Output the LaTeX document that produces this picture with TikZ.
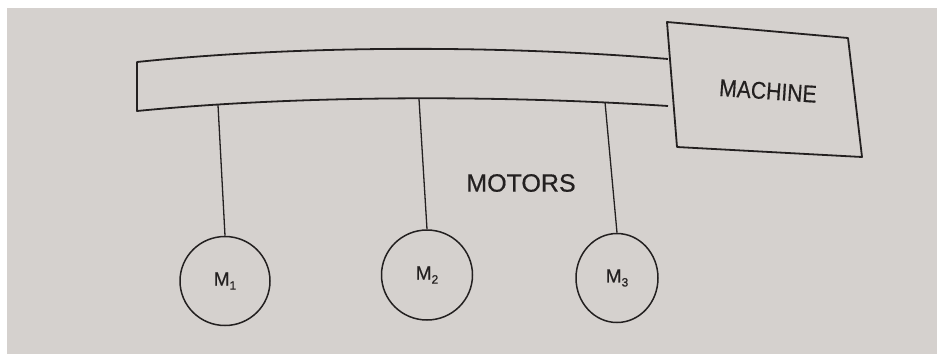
\documentclass[tikz,border=0pt]{standalone}
\usepackage{fontspec}
\setmainfont[FakeBold=0.6,AutoFakeBold=0.6]{Liberation Sans}
\usetikzlibrary{shapes.geometric}
\definecolor{paper}{RGB}{213,209,206}
\definecolor{ink}{RGB}{35,32,32}
\newcommand\motsub[1]{\raisebox{-4pt}{\fontsize{12}{12}\selectfont #1}}
\begin{document}
\begin{tikzpicture}[x=1pt,y=-1pt,
  outline/.style={draw=ink, line width=1.8pt, line join=round},
  drop/.style={draw=ink, line width=1.3pt},
  motor/.style={ellipse, draw=ink, line width=1.5pt, inner sep=0pt, text=ink,
                font=\fontsize{19}{19}\selectfont},
  lbl/.style={text=ink, inner sep=0pt}]
\useasboundingbox (0,0) rectangle (939,354);
\fill[white] (0,0) rectangle (939,354);
\fill[paper] (7,8) rectangle (937,354);
% shaft
\coordinate (sTR) at (668,59);
\coordinate (sTL) at (137,62);
\coordinate (sBL) at (137,111);
\coordinate (sBR) at (668,106);
\draw[outline] (sTR) .. controls (500,45) and (300,45) .. (sTL) -- (sBL)
  .. controls (300,95) and (500,95) .. (sBR);
% machine
\coordinate (b1) at (667,22);
\coordinate (b2) at (848,38);
\coordinate (b3) at (862,157);
\coordinate (b4) at (677,147);
\draw[outline] (b1) -- (b2) -- (b3) -- (b4) -- cycle;
\node[lbl, rotate=-4, font=\fontsize{23}{23}\selectfont] (machine) at (768,91)
  {\scalebox{0.92}[1.05]{MACHINE}};
% label
\node[lbl, font=\fontsize{25}{25}\selectfont] (motors) at (521,183) {MOTORS};
% motors
\node[motor, minimum width=90pt, minimum height=89pt] (m1) at (225,281) {M\motsub{1}};
\node[motor, minimum width=91pt, minimum height=90pt] (m2) at (427,275) {M\motsub{2}};
\node[motor, minimum width=82pt, minimum height=89pt] (m3) at (617,278) {M\motsub{3}};
% drop lines
\coordinate (d1) at (218,105);
\coordinate (d2) at (419,99);
\coordinate (d3) at (605,102);
\draw[drop] (d1) -- (m1.north);
\draw[drop] (d2) -- (m2.north);
\draw[drop] (d3) -- (m3.north);
\end{tikzpicture}
\end{document}
